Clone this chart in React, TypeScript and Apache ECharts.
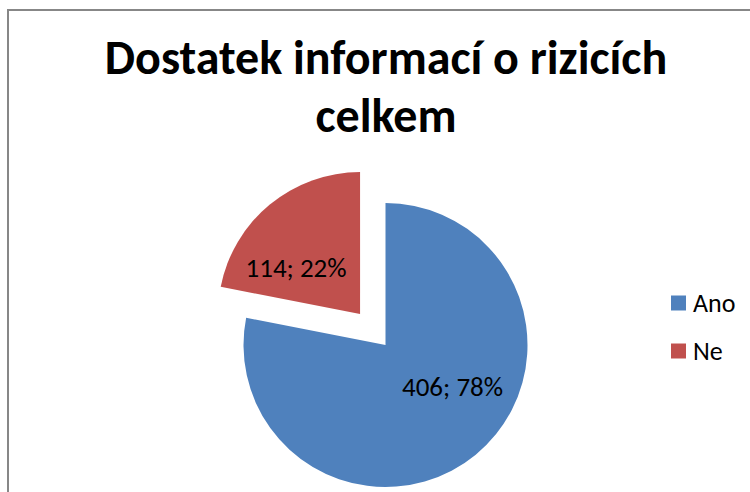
import React, { useEffect, useRef } from "react";
import * as echarts from "echarts";

const titleLines = ["Dostatek informací o rizicích", "celkem"];
const categories = ["Ano", "Ne"];
const values = [406, 114];
const percents = [78, 22];
const colors = ["#4F81BD", "#C0504D"];
const explodedIndex = 1;

const FONT = "Carlito, Lato, 'Open Sans', sans-serif";

export default function App() {
  const ref = useRef<HTMLDivElement>(null);
  useEffect(() => {
    if (!ref.current) return;
    const chart = echarts.init(ref.current, undefined, { renderer: "svg" });
    const labelShift = [
      [20, -16],
      [-17, 11],
    ];
    chart.setOption({
      animation: false,
      backgroundColor: "#ffffff",
      title: {
        text: titleLines.join("\n"),
        left: 381,
        top: 23,
        textAlign: "center",
        textStyle: {
          fontFamily: FONT,
          fontWeight: "bold",
          fontSize: 48,
          lineHeight: 58,
          color: "#000000",
        },
      },
      legend: {
        orient: "vertical",
        left: 671,
        top: 290,
        padding: 0,
        icon: "rect",
        itemWidth: 15,
        itemHeight: 15,
        itemGap: 22,
        textStyle: { fontFamily: FONT, fontSize: 26, color: "#000000", padding: [0, 0, 0, 2] },
        data: categories,
      },
      graphic: [
        {
          type: "rect",
          shape: { x: 8, y: 10, width: 800, height: 600 },
          style: { fill: "none", stroke: "#878787", lineWidth: 2 },
          silent: true,
        },
      ],
      series: [
        {
          type: "pie",
          center: [385.5, 345],
          radius: 142,
          startAngle: 90,
          clockwise: true,
          selectedMode: "single",
          selectedOffset: 40,
          avoidLabelOverlap: false,
          emphasis: { disabled: true },
          select: { itemStyle: {} },
          label: {
            show: true,
            position: "inside",
            fontFamily: FONT,
            fontSize: 27,
            color: "#000000",
            formatter: (p: any) => `${values[p.dataIndex]}; ${percents[p.dataIndex]}%`,
          },
          labelLine: { show: false },
          labelLayout: (p: any) => ({ dx: labelShift[p.dataIndex][0], dy: labelShift[p.dataIndex][1] }),
          data: categories.map((name, i) => ({
            name,
            value: values[i],
            selected: i === explodedIndex,
            itemStyle: { color: colors[i] },
            select: { itemStyle: { color: colors[i] } },
          })),
        },
      ],
    });
    return () => chart.dispose();
  }, []);
  return (
    <div
      ref={ref}
      style={{ position: "fixed", left: 0, top: 0, width: 750, height: 492 }}
    />
  );
}
